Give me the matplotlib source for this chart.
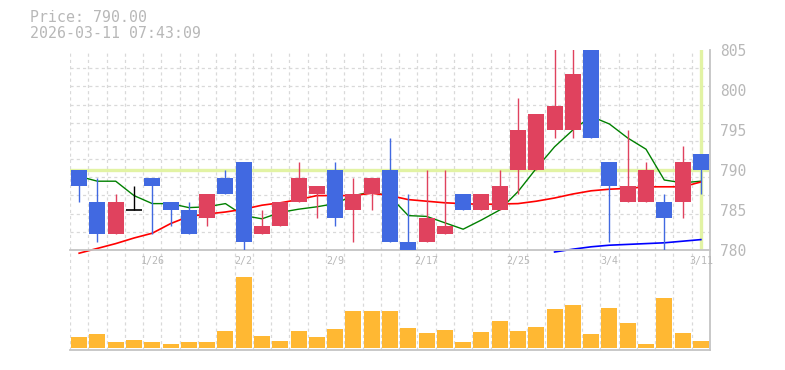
import numpy as np
import matplotlib
matplotlib.use("Agg")
import matplotlib.pyplot as plt
from matplotlib.ticker import FixedLocator

# 日付（営業日）
dates = ["1/20", "1/21", "1/22", "1/23", "1/26", "1/27", "1/28", "1/29", "1/30",
         "2/2", "2/3", "2/4", "2/5", "2/6", "2/9", "2/10", "2/12", "2/13",
         "2/16", "2/17", "2/18", "2/19", "2/20", "2/24", "2/25", "2/26", "2/27",
         "3/2", "3/3", "3/4", "3/5", "3/6", "3/9", "3/10", "3/11"]
tick_labels = ["1/26", "2/2", "2/9", "2/17", "2/25", "3/4", "3/11"]

opens = [790, 786, 782, 785, 789, 786, 785, 784, 789, 791, 782, 783, 786, 787, 790,
         785, 787, 790, 781, 781, 782, 787, 785, 785, 790, 790, 795, 795, 806,
         791, 786, 786, 786, 786, 792]
highs = [790, 789, 787, 788, 789, 786, 786, 787, 790, 791, 785, 786, 791, 788, 791,
         789, 789, 794, 787, 790, 790, 787, 787, 790, 799, 797, 806, 806, 806,
         791, 795, 791, 787, 793, 792]
lows = [786, 781, 782, 785, 782, 783, 782, 783, 787, 780, 782, 783, 786, 784, 783,
        781, 785, 781, 780, 781, 782, 785, 785, 785, 787, 790, 794, 794, 794,
        781, 786, 786, 780, 784, 787]
closes = [788, 782, 786, 785, 788, 785, 782, 787, 787, 781, 783, 786, 789, 788, 784,
          787, 789, 781, 780, 784, 783, 785, 787, 788, 795, 797, 798, 802, 794,
          788, 788, 790, 784, 791, 790]

ma_short = [789.2, 788.6, 788.6, 786.8, 785.8, 785.8, 785.3, 785.4, 785.8, 784.3,
            783.9, 784.7, 785.1, 785.4, 785.8, 786.8, 787.25, 786.7, 784.3, 784.2,
            783.4, 782.6, 783.75, 785.0, 787.3, 790.2, 792.9, 795.0, 796.7, 795.75,
            794.0, 792.6, 788.75, 788.4, 788.6]
ma_mid = [779.6, 780.2, 780.8, 781.5, 782.1, 783.3, 784.2, 784.5, 784.75, 785.1,
          785.6, 785.9, 786.3, 786.8, 786.8, 786.8, 787.1, 786.8, 786.3, 786.1,
          785.9, 785.8, 785.7, 785.75, 785.8, 786.1, 786.5, 787.0, 787.4, 787.6,
          787.7, 787.9, 787.9, 787.9, 788.5]
ma_long = [np.nan] * 26 + [779.75, 780.1, 780.4, 780.6, 780.7, 780.8, 780.9, 781.1, 781.3]

volumes = [11, 14, 6, 8, 6, 4, 6, 6, 17, 71, 12, 7, 17, 11, 19, 37, 37, 37, 20, 15,
           18, 6, 16, 27, 17, 21, 39, 43, 14, 40, 25, 4, 50, 15, 7]

price_now = 790.00
timestamp = "2026-03-11 07:43:09"

UP = "#e0425e"
DOWN = "#4169e1"
GRID = "#d9d9d9"
AXIS = "#c4c4c4"
TEXT = "#b8b8b8"
MONO = "DejaVu Sans Mono"


def main() -> None:
    W, H = 785, 370
    fig = plt.figure(figsize=(W / 100, H / 100), dpi=100)
    left, right = 70 / W, 710 / W
    ax = fig.add_axes([left, (H - 250) / H, right - left, 200 / H])
    axv = fig.add_axes([left, (H - 350) / H, right - left, 100 / H])

    x = np.arange(len(dates))
    o = np.array(opens, float)
    c = np.array(closes, float)

    # 現在値ライン
    ax.axhline(price_now, color="#e2f3a4", lw=2.4, zorder=1)
    ax.axvline(x[-1], color="#e2f3a4", lw=2.4, zorder=1)

    # 移動平均
    ax.plot(x, ma_short, color="#008000", lw=1.0, zorder=2, clip_on=False)
    ax.plot(x, ma_mid, color="#ff0000", lw=1.2, zorder=2, clip_on=False)
    ax.plot(x, ma_long, color="#0000ff", lw=1.2, zorder=2, clip_on=False)

    cols = [UP if cc > oo else DOWN if cc < oo else "black" for oo, cc in zip(o, c)]
    ax.vlines(x, lows, highs, colors=cols, lw=1.0, zorder=3)
    ax.bar(x, np.abs(c - o), bottom=np.minimum(o, c), width=0.875, color=cols,
           linewidth=0, zorder=4)
    doji = [i for i in x if o[i] == c[i]]
    ax.hlines(c[doji], x[doji] - 0.4375, x[doji] + 0.4375, colors="black", lw=1.2, zorder=4)

    ax.set_xlim(-0.5, len(dates) - 0.5)
    ax.set_ylim(780, 805)
    ax.yaxis.tick_right()
    ax.set_yticks(np.arange(780, 806, 5))
    ax.yaxis.set_minor_locator(FixedLocator(np.linspace(780, 805, 12)))
    ax.xaxis.set_minor_locator(FixedLocator(np.arange(-0.5, len(dates), 1)))
    ax.set_xticks([dates.index(t) for t in tick_labels])
    ax.set_xticklabels(tick_labels)
    ax.grid(which="minor", color=GRID, linestyle=(0, (2.5, 2.5)), lw=0.9)
    ax.tick_params(which="both", length=0)
    ax.tick_params(axis="y", pad=7, labelsize=10.5, labelcolor=TEXT)
    ax.tick_params(axis="x", pad=4.5, labelsize=7.2, labelcolor=TEXT)
    for lab in ax.get_xticklabels() + ax.get_yticklabels():
        lab.set_fontfamily(MONO)

    # 出来高
    axv.bar(x, volumes, width=0.875, color="#ffb833", linewidth=0)
    axv.set_xlim(-0.5, len(dates) - 0.5)
    axv.set_ylim(-2, 98)
    axv.xaxis.set_minor_locator(FixedLocator(np.arange(-0.5, len(dates), 1)))
    axv.set_xticks([])
    axv.set_yticks([])
    axv.grid(which="minor", axis="x", color=GRID, linestyle=(0, (2.5, 2.5)), lw=0.9)
    axv.tick_params(which="both", length=0)
    axv.patch.set_visible(False)

    for a in (ax, axv):
        a.set_axisbelow(True)
        for side in ("top", "left"):
            a.spines[side].set_visible(False)
        for side in ("bottom", "right"):
            a.spines[side].set_color(AXIS)
            a.spines[side].set_linewidth(1.3)
    ax.set_zorder(2)

    fig.text(30 / W, 1 - 18 / H, f"Price: {price_now:.2f}", fontsize=10.7,
             color=TEXT, family=MONO, va="center")
    fig.text(30 / W, 1 - 33 / H, timestamp, fontsize=10.7,
             color=TEXT, family=MONO, va="center")

    fig.savefig("out.png", dpi=100)
    plt.close(fig)


if __name__ == "__main__":
    main()
